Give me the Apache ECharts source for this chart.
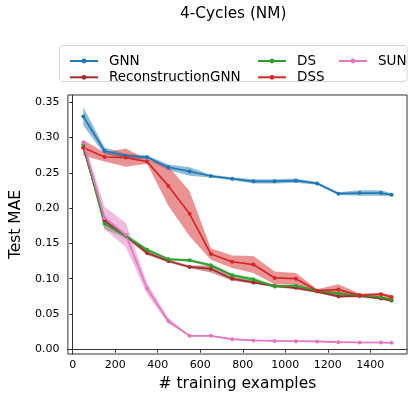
<!DOCTYPE html>
<html>
<head>
<meta charset="utf-8">
<script src="https://cdn.jsdelivr.net/npm/echarts@6/dist/echarts.min.js"></script>
<style>
html,body{margin:0;padding:0;background:#fff;}
#chart{width:415px;height:399px;}
</style>
</head>
<body>
<div id="chart"></div>
<script>
// ---- data ----
const xs = [50,150,250,350,450,550,650,750,850,950,1050,1150,1250,1350,1450,1500];

const gnnMean   = [0.330,0.281,0.274,0.272,0.258,0.252,0.2455,0.2417,0.238,0.238,0.239,0.235,0.2205,0.2214,0.2214,0.219];
const gnnStd    = [0.013,0.005,0.003,0.003,0.004,0.006,0.002,0.002,0.003,0.003,0.003,0.002,0.002,0.004,0.004,0.002];

const reconMean = [0.286,0.182,0.1605,0.1365,0.125,0.1166,0.1138,0.100,0.0947,0.0897,0.087,0.0817,0.075,0.0755,0.072,0.069];
const reconStd  = [0.004,0.006,0.003,0.003,0.002,0.002,0.005,0.003,0.002,0.002,0.002,0.002,0.002,0.002,0.002,0.002];

const dsMean    = [0.290,0.178,0.1605,0.141,0.1275,0.126,0.119,0.105,0.0987,0.089,0.090,0.0826,0.079,0.0765,0.0737,0.0704];
const dsStd     = [0.004,0.008,0.003,0.002,0.002,0.002,0.002,0.002,0.003,0.002,0.002,0.002,0.002,0.002,0.002,0.002];

const dssMean   = [0.2855,0.2725,0.2717,0.266,0.2315,0.192,0.135,0.124,0.120,0.101,0.100,0.083,0.0845,0.0765,0.078,0.074];
const dssStd    = [0.011,0.0065,0.013,0.003,0.028,0.032,0.008,0.009,0.012,0.009,0.008,0.002,0.0075,0.002,0.002,0.003];

const sunMean   = [0.293,0.186,0.162,0.086,0.040,0.0189,0.0189,0.0142,0.0125,0.0118,0.0113,0.011,0.0099,0.0095,0.0095,0.009];
const sunStd    = [0.004,0.016,0.017,0.008,0.004,0.001,0.001,0.001,0.001,0.001,0.001,0.001,0.001,0.001,0.001,0.001];

const xTicks = [0,200,400,600,800,1000,1200,1400];
const yTicks = [0,0.05,0.10,0.15,0.20,0.25,0.30,0.35];

const seriesDefs = [
  {name:'GNN', color:'#1f77b4', mean:gnnMean, std:gnnStd},
  {name:'ReconstructionGNN', color:'#a52a2a', mean:reconMean, std:reconStd},
  {name:'DS', color:'#2ca02c', mean:dsMean, std:dsStd},
  {name:'DSS', color:'#d62728', mean:dssMean, std:dssStd},
  {name:'SUN', color:'#e377c2', mean:sunMean, std:sunStd}
];

const FONT = 'DejaVu Sans';
const series = [];
seriesDefs.forEach(function(d){
  const lo = d.mean.map(function(m,i){return m - d.std[i];});
  const hi = d.mean.map(function(m,i){return m + d.std[i];});
  series.push({
    type:'custom', name:d.name+' band', silent:true, z:1,
    data: xs.map(function(x,i){return [x, lo[i], hi[i]];}),
    encode:{x:0, y:[1,2]},
    renderItem:function(params, api){
      if (params.dataIndex !== 0) return;
      const pts = [];
      for (let i=0;i<xs.length;i++) pts.push(api.coord([xs[i], hi[i]]));
      for (let i=xs.length-1;i>=0;i--) pts.push(api.coord([xs[i], lo[i]]));
      return {type:'polygon', shape:{points:pts}, style:{fill:d.color, opacity:0.5}};
    }
  });
});
seriesDefs.forEach(function(d){
  series.push({
    type:'line', name:d.name, z:2,
    data: xs.map(function(x,i){return [x, d.mean[i]];}),
    symbol:'circle', symbolSize:4, showSymbol:true,
    lineStyle:{width:1.7, color:d.color},
    itemStyle:{color:d.color},
    emphasis:{disabled:true}
  });
});

function legendCol(left, names){
  return {
    left:left, top:49, orient:'vertical', data:names,
    itemWidth:28, itemHeight:6, itemGap:2.3,
    selectedMode:false,
    textStyle:{fontSize:13.5, fontFamily:FONT, color:'#000', lineHeight:14, padding:[0,0,0,6]}
  };
}

const chart = echarts.init(document.getElementById('chart'), null, {renderer:'canvas'});
chart.setOption({
  animation:false,
  backgroundColor:'#fff',
  grid:{left:59, right:8, top:95, bottom:45, show:true, borderColor:'#333', borderWidth:1, backgroundColor:'transparent'},
  graphic:[
    {type:'text', left:180, top:7, style:{text:'4-Cycles (NM)', font:'15.3px "DejaVu Sans"', fill:'#000'}},
    {type:'rect', z:0, shape:{x:59.5, y:45.5, width:347.5, height:36, r:3}, style:{fill:'#fff', stroke:'#d5d5d5', lineWidth:1}}
  ],
  legend:[
    legendCol(64, ['GNN','ReconstructionGNN']),
    legendCol(252, ['DS','DSS']),
    legendCol(333, ['SUN'])
  ],
  xAxis:{
    type:'value', min:-22.5, max:1572.5,
    name:'# training examples', nameLocation:'middle', nameGap:20,
    nameTextStyle:{fontSize:15.5, fontFamily:FONT, color:'#000'},
    axisLine:{show:true, lineStyle:{color:'#333', width:1}},
    axisTick:{show:true, length:3.5, customValues:xTicks, lineStyle:{color:'#333'}},
    axisLabel:{customValues:xTicks, margin:6, fontSize:11, fontFamily:FONT, color:'#000',
      formatter:function(v){return String(Math.round(v));}},
    splitLine:{show:false}
  },
  yAxis:{
    type:'value', min:-0.0068, max:0.3604,
    name:'Test MAE', nameLocation:'middle', nameGap:36,
    nameTextStyle:{fontSize:15.5, fontFamily:FONT, color:'#000'},
    axisLine:{show:true, lineStyle:{color:'#333', width:1}},
    axisTick:{show:true, length:3.5, customValues:yTicks, lineStyle:{color:'#333'}},
    axisLabel:{customValues:yTicks, margin:8.5, fontSize:11, fontFamily:FONT, color:'#000',
      formatter:function(v){return v.toFixed(2);}},
    splitLine:{show:false}
  },
  series:series
});
</script>
</body>
</html>
